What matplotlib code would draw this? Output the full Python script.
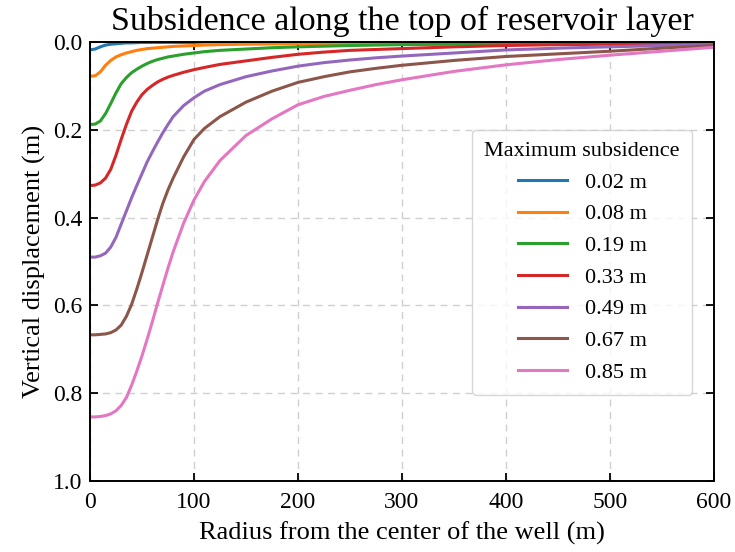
import matplotlib
matplotlib.use("Agg")
from matplotlib import pyplot as plt

# radial positions (m) at which the subsidence was sampled
radius = [0, 5, 10, 15, 20, 25, 30, 35, 40, 45, 50, 55, 60, 65, 70, 75, 80, 90, 100, 110,
          125, 150, 175, 200, 225, 250, 275, 300, 350, 400, 450, 500, 550, 600]

# vertical displacement (m) along the top of the reservoir, one list per case
disp_002 = [0.018, 0.016, 0.011, 0.007, 0.005, 0.004, 0.003, 0.002, 0.002, 0.0015, 0.001,
            0.001, 0.001, 0.001, 0.001, 0.001, 0.001, 0.001, 0.001, 0.0,
            0.0, 0.0, 0.0, 0.0, 0.0, 0.0, 0.0, 0.0, 0.0, 0.0, 0.0, 0.0, 0.0, 0.0]
disp_008 = [0.078, 0.077, 0.068, 0.053, 0.042, 0.034, 0.029, 0.025, 0.022, 0.019, 0.017,
            0.015, 0.014, 0.013, 0.012, 0.011, 0.010, 0.009, 0.008, 0.007,
            0.006, 0.005, 0.0045, 0.004, 0.0035, 0.003, 0.0028, 0.0025, 0.002, 0.002,
            0.0015, 0.001, 0.001, 0.001]
disp_019 = [0.188, 0.187, 0.180, 0.163, 0.140, 0.116, 0.095, 0.081, 0.070, 0.062, 0.055,
            0.049, 0.044, 0.040, 0.037, 0.034, 0.032, 0.028, 0.025, 0.022,
            0.019, 0.016, 0.013, 0.011, 0.0095, 0.008, 0.007, 0.006, 0.005, 0.004,
            0.003, 0.003, 0.002, 0.002]
disp_033 = [0.327, 0.326, 0.321, 0.310, 0.290, 0.258, 0.222, 0.188, 0.158, 0.137, 0.120,
            0.108, 0.099, 0.091, 0.085, 0.080, 0.076, 0.069, 0.063, 0.058,
            0.051, 0.043, 0.035, 0.028, 0.023, 0.019, 0.017, 0.015, 0.011, 0.008,
            0.006, 0.005, 0.004, 0.003]
disp_049 = [0.490, 0.490, 0.487, 0.481, 0.467, 0.445, 0.415, 0.385, 0.355, 0.327, 0.300,
            0.273, 0.250, 0.228, 0.207, 0.188, 0.170, 0.145, 0.127, 0.112,
            0.097, 0.079, 0.066, 0.055, 0.047, 0.041, 0.036, 0.032, 0.025, 0.018,
            0.014, 0.011, 0.008, 0.006]
disp_067 = [0.667, 0.667, 0.666, 0.665, 0.662, 0.656, 0.645, 0.625, 0.598, 0.563, 0.525,
            0.485, 0.445, 0.405, 0.368, 0.337, 0.310, 0.262, 0.222, 0.197,
            0.170, 0.137, 0.112, 0.092, 0.079, 0.068, 0.060, 0.053, 0.042, 0.033,
            0.027, 0.021, 0.014, 0.008]
disp_085 = [0.854, 0.854, 0.853, 0.851, 0.847, 0.840, 0.828, 0.810, 0.782, 0.750, 0.715,
            0.677, 0.637, 0.595, 0.555, 0.515, 0.478, 0.413, 0.360, 0.318,
            0.270, 0.213, 0.175, 0.143, 0.124, 0.110, 0.097, 0.086, 0.067, 0.052,
            0.040, 0.030, 0.021, 0.012]

labels = ["0.02 m", "0.08 m", "0.19 m", "0.33 m", "0.49 m", "0.67 m", "0.85 m"]
series = [disp_002, disp_008, disp_019, disp_033, disp_049, disp_067, disp_085]

plt.rcParams['font.family'] = ['Liberation Serif', 'DejaVu Serif']

fig = plt.figure(figsize=(7.35, 5.52), dpi=100)
ax = fig.add_axes([0.1224, 0.1286, 0.8490, 0.7953])

for disp, lab in zip(series, labels):
    ax.plot(radius, disp, lw=2.2, label=lab)

ax.set_xlim(0, 600)
ax.set_ylim(1.0, 0.0)
ax.set_xticks([0, 100, 200, 300, 400, 500, 600])
ax.set_yticks([0.0, 0.2, 0.4, 0.6, 0.8, 1.0])
ax.grid(True, ls=(0, (5, 4)), color='#d0d0d0', lw=1)
ax.tick_params(direction='in', top=True, right=True, length=6, width=1.3, labelsize=17)
ax.tick_params(axis='x', pad=8)
ax.tick_params(axis='y', pad=5.5)
for sp in ax.spines.values():
    sp.set_linewidth(1.4)

ax.set_title("Subsidence along the top of reservoir layer", fontsize=24.5, pad=8.5)
ax.set_xlabel("Radius from the center of the well (m)", fontsize=19, labelpad=6)
ax.set_ylabel("Vertical displacement (m)", fontsize=19, labelpad=5)

ax.legend(title="Maximum subsidence", fontsize=16, title_fontsize=16,
          loc='upper right', bbox_to_anchor=(0.965, 0.80), borderaxespad=0,
          handlelength=2.2, labelspacing=0.5, handletextpad=0.8, borderpad=0.55)

fig.savefig("out.png", dpi=100)
